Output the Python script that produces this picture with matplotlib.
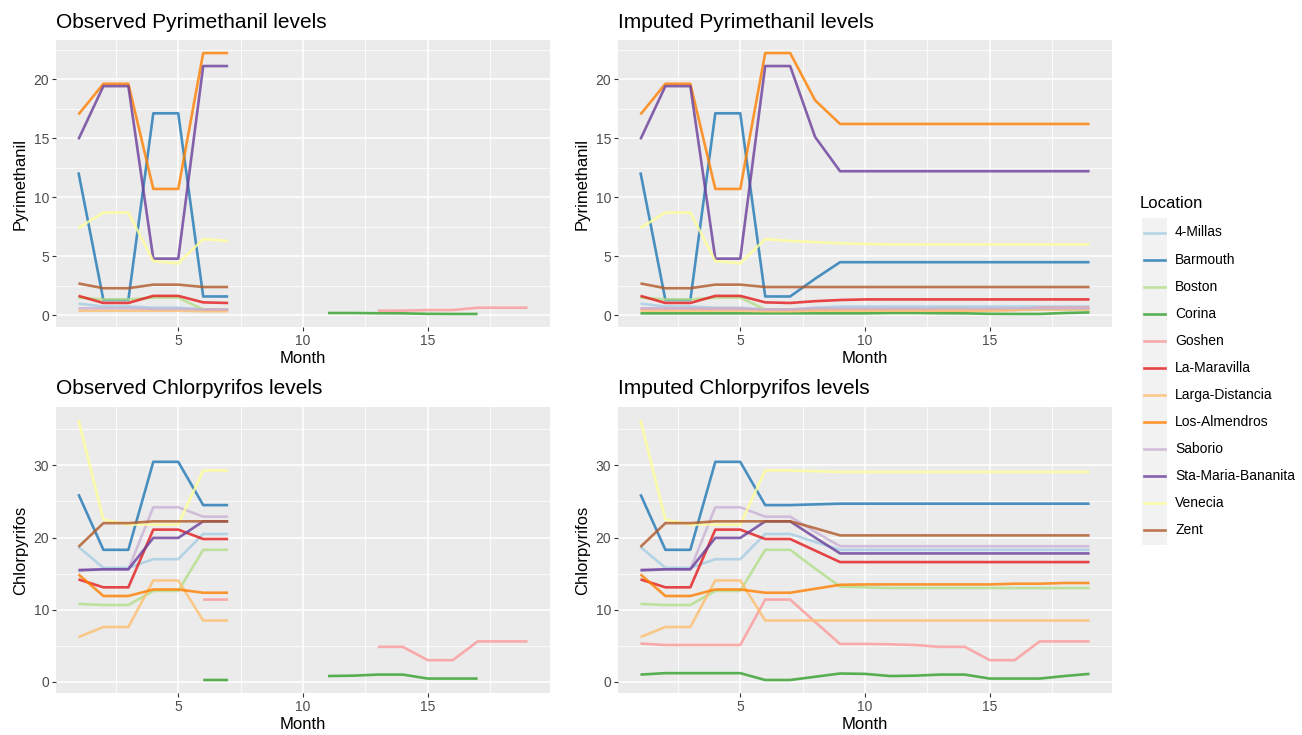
import numpy as np
import matplotlib
matplotlib.use('Agg')
import matplotlib.pyplot as plt
from matplotlib.lines import Line2D
from matplotlib.patches import Rectangle

plt.rcParams['font.family'] = ['Liberation Sans', 'DejaVu Sans']

MONTHS = np.arange(1, 20)

LOCATIONS = ['4-Millas', 'Barmouth', 'Boston', 'Corina', 'Goshen',
             'La-Maravilla', 'Larga-Distancia', 'Los-Almendros', 'Saborio',
             'Sta-Maria-Bananita', 'Venecia', 'Zent']

# ColorBrewer "Paired"
COLORS = ['#A6CEE3', '#1F78B4', '#B2DF8A', '#33A02C', '#FB9A99', '#E31A1C',
          '#FDBF6F', '#FF7F00', '#CAB2D6', '#6A3D9A', '#FFFF99', '#B15928']

# imputed series, months 1..19
PYR = {
    '4-Millas': [1.0, 0.75, 0.75, 0.65, 0.65, 0.5, 0.5, 0.65, 0.75, 0.75,
                 0.75, 0.75, 0.75, 0.75, 0.75, 0.75, 0.75, 0.75, 0.75],
    'Barmouth': [12.1, 1.3, 1.3, 17.1, 17.1, 1.6, 1.6, 3.1, 4.5, 4.5,
                 4.5, 4.5, 4.5, 4.5, 4.5, 4.5, 4.5, 4.5, 4.5],
    'Boston': [1.5, 1.35, 1.35, 1.5, 1.5, 0.5, 0.5, 0.5, 0.5, 0.5,
               0.5, 0.5, 0.5, 0.5, 0.5, 0.5, 0.5, 0.5, 0.5],
    'Corina': [0.17, 0.17, 0.17, 0.17, 0.17, 0.17, 0.17, 0.17, 0.17, 0.17,
               0.2, 0.2, 0.18, 0.17, 0.13, 0.12, 0.12, 0.2, 0.25],
    'Goshen': [0.55, 0.55, 0.55, 0.55, 0.55, 0.45, 0.45, 0.45, 0.45, 0.45,
               0.45, 0.45, 0.4, 0.4, 0.45, 0.45, 0.65, 0.65, 0.65],
    'La-Maravilla': [1.65, 1.05, 1.05, 1.65, 1.65, 1.1, 1.05, 1.2, 1.3, 1.35,
                     1.35, 1.35, 1.35, 1.35, 1.35, 1.35, 1.35, 1.35, 1.35],
    'Larga-Distancia': [0.4, 0.4, 0.4, 0.4, 0.4, 0.35, 0.35, 0.4, 0.4, 0.4,
                        0.4, 0.4, 0.4, 0.4, 0.4, 0.45, 0.5, 0.5, 0.5],
    'Los-Almendros': [17.0, 19.6, 19.6, 10.7, 10.7, 22.2, 22.2, 18.2, 16.2, 16.2,
                      16.2, 16.2, 16.2, 16.2, 16.2, 16.2, 16.2, 16.2, 16.2],
    'Saborio': [0.6, 0.6, 0.6, 0.55, 0.55, 0.5, 0.5, 0.6, 0.6, 0.6,
                0.6, 0.6, 0.6, 0.6, 0.6, 0.6, 0.6, 0.6, 0.6],
    'Sta-Maria-Bananita': [14.9, 19.4, 19.4, 4.8, 4.8, 21.1, 21.1, 15.1, 12.2, 12.2,
                           12.2, 12.2, 12.2, 12.2, 12.2, 12.2, 12.2, 12.2, 12.2],
    'Venecia': [7.4, 8.7, 8.7, 4.6, 4.4, 6.45, 6.3, 6.2, 6.1, 6.05,
                6.0, 6.0, 6.0, 6.0, 6.0, 6.0, 6.0, 6.0, 6.0],
    'Zent': [2.7, 2.3, 2.3, 2.6, 2.6, 2.4, 2.4, 2.4, 2.4, 2.4,
             2.4, 2.4, 2.4, 2.4, 2.4, 2.4, 2.4, 2.4, 2.4],
}

CHL = {
    '4-Millas': [18.7, 15.8, 15.8, 17.0, 17.0, 20.5, 20.5, 19.4, 18.3, 18.3,
                 18.3, 18.3, 18.3, 18.3, 18.3, 18.3, 18.3, 18.3, 18.3],
    'Barmouth': [26.0, 18.3, 18.3, 30.5, 30.5, 24.5, 24.5, 24.6, 24.7, 24.7,
                 24.7, 24.7, 24.7, 24.7, 24.7, 24.7, 24.7, 24.7, 24.7],
    'Boston': [10.8, 10.65, 10.65, 12.6, 12.6, 18.3, 18.3, 15.7, 13.2, 13.1,
               13.0, 13.0, 13.0, 13.0, 13.0, 13.0, 13.0, 13.0, 13.0],
    'Corina': [1.0, 1.2, 1.2, 1.2, 1.2, 0.25, 0.25, 0.7, 1.15, 1.1,
               0.8, 0.85, 1.0, 1.0, 0.45, 0.45, 0.45, 0.8, 1.1],
    'Goshen': [5.3, 5.1, 5.1, 5.1, 5.1, 11.4, 11.4, 8.3, 5.25, 5.25,
               5.2, 5.1, 4.85, 4.85, 3.0, 3.0, 5.6, 5.6, 5.6],
    'La-Maravilla': [14.2, 13.1, 13.1, 21.1, 21.1, 19.8, 19.8, 18.2, 16.6, 16.6,
                     16.6, 16.6, 16.6, 16.6, 16.6, 16.6, 16.6, 16.6, 16.6],
    'Larga-Distancia': [6.2, 7.6, 7.6, 14.05, 14.05, 8.5, 8.5, 8.5, 8.5, 8.5,
                        8.5, 8.5, 8.5, 8.5, 8.5, 8.5, 8.5, 8.5, 8.5],
    'Los-Almendros': [14.9, 11.9, 11.9, 12.8, 12.8, 12.35, 12.35, 12.9, 13.45, 13.5,
                      13.5, 13.5, 13.5, 13.5, 13.5, 13.6, 13.6, 13.7, 13.7],
    'Saborio': [15.6, 15.6, 15.6, 24.2, 24.2, 22.9, 22.9, 20.8, 18.8, 18.8,
                18.8, 18.8, 18.8, 18.8, 18.8, 18.8, 18.8, 18.8, 18.8],
    'Sta-Maria-Bananita': [15.45, 15.6, 15.6, 19.95, 19.95, 22.25, 22.25, 20.0, 17.8, 17.8,
                           17.8, 17.8, 17.8, 17.8, 17.8, 17.8, 17.8, 17.8, 17.8],
    'Venecia': [36.3, 22.5, 21.8, 21.8, 21.8, 29.3, 29.3, 29.2, 29.1, 29.1,
                29.1, 29.1, 29.1, 29.1, 29.1, 29.1, 29.1, 29.1, 29.1],
    'Zent': [18.7, 22.0, 22.0, 22.25, 22.25, 22.25, 22.25, 21.3, 20.3, 20.3,
             20.3, 20.3, 20.3, 20.3, 20.3, 20.3, 20.3, 20.3, 20.3],
}

# months with actual measurements (the rest were imputed)
FIRST_HALF = [1, 2, 3, 4, 5, 6, 7]
OBS_PYR = {loc: FIRST_HALF for loc in LOCATIONS}
OBS_PYR['Corina'] = [11, 12, 13, 14, 15, 16, 17]
OBS_PYR['Goshen'] = [6, 7, 13, 14, 15, 16, 17, 18, 19]
OBS_CHL = {loc: FIRST_HALF for loc in LOCATIONS}
OBS_CHL['Corina'] = [6, 7, 11, 12, 13, 14, 15, 16, 17]
OBS_CHL['Goshen'] = [6, 7, 13, 14, 15, 16, 17, 18, 19]


def observed(series, months_seen):
    vals = np.array(series, dtype=float)
    mask = np.isin(MONTHS, months_seen)
    vals[~mask] = np.nan
    return vals


def gg_panel(ax, data, title, ylabel, ymajor, obs=None):
    ax.set_facecolor('#EBEBEB')
    all_vals = []
    for loc, col in zip(LOCATIONS, COLORS):
        vals = np.array(data[loc], dtype=float)
        if obs is not None:
            vals = observed(data[loc], obs[loc])
        all_vals.append(vals)
        ax.plot(MONTHS, vals, color=col, lw=1.9, alpha=0.8,
                solid_capstyle='butt', zorder=3)
    all_vals = np.concatenate(all_vals)
    lo, hi = np.nanmin(all_vals), np.nanmax(all_vals)
    pad = 0.05 * (hi - lo)
    ax.set_ylim(lo - pad, hi + pad)
    ax.set_xlim(1 - 0.9, 19 + 0.9)

    ax.set_xticks([5, 10, 15])
    ax.set_xticks([2.5, 7.5, 12.5, 17.5], minor=True)
    ax.set_yticks(ymajor)
    step = ymajor[1] - ymajor[0]
    ax.set_yticks(np.arange(step / 2, hi + pad, step), minor=True)
    ax.grid(which='major', color='white', lw=1.1, zorder=1)
    ax.grid(which='minor', color='white', lw=0.55, zorder=1)
    ax.tick_params(which='major', length=3, width=0.8, color='#333333',
                   labelcolor='#4D4D4D', labelsize=10, pad=2)
    ax.tick_params(which='minor', length=0)
    for s in ax.spines.values():
        s.set_visible(False)

    ax.set_title(title, loc='left', fontsize=15, pad=9)
    ax.set_xlabel('Month', fontsize=12, labelpad=2)
    ax.set_ylabel(ylabel, fontsize=12, labelpad=4)


fig = plt.figure(figsize=(13.02, 7.35), dpi=100)
W, H = 1302, 735


def add_axes(x0, y0, x1, y1):
    return fig.add_axes([x0 / W, 1 - y1 / H, (x1 - x0) / W, (y1 - y0) / H])


ax1 = add_axes(56, 40, 550, 327)
ax2 = add_axes(618, 40, 1112, 327)
ax3 = add_axes(56, 407, 550, 693)
ax4 = add_axes(618, 407, 1112, 693)

gg_panel(ax1, PYR, 'Observed Pyrimethanil levels', 'Pyrimethanil',
         [0, 5, 10, 15, 20], obs=OBS_PYR)
gg_panel(ax2, PYR, 'Imputed Pyrimethanil levels', 'Pyrimethanil',
         [0, 5, 10, 15, 20])
gg_panel(ax3, CHL, 'Observed Chlorpyrifos levels', 'Chlorpyrifos',
         [0, 10, 20, 30], obs=OBS_CHL)
gg_panel(ax4, CHL, 'Imputed Chlorpyrifos levels', 'Chlorpyrifos',
         [0, 10, 20, 30])

# legend, drawn ggplot-style
fig.text(1140 / W, 1 - 204 / H, 'Location', fontsize=12, va='center',
         ha='left', color='black')
fig.patches.append(Rectangle((1142 / W, 1 - 545 / H), 25 / W, 327 / H,
                             transform=fig.transFigure, facecolor='#F2F2F2',
                             edgecolor='none', zorder=0))
for i, (loc, col) in enumerate(zip(LOCATIONS, COLORS)):
    y = 1 - (232.5 + 27.05 * i) / H
    fig.lines.append(Line2D([1144 / W, 1165 / W], [y, y], color=col, lw=1.9,
                            alpha=0.8, transform=fig.transFigure))
    fig.text(1175 / W, y, loc, fontsize=10, va='center', ha='left',
             color='black')

fig.savefig('out.png', dpi=100)
